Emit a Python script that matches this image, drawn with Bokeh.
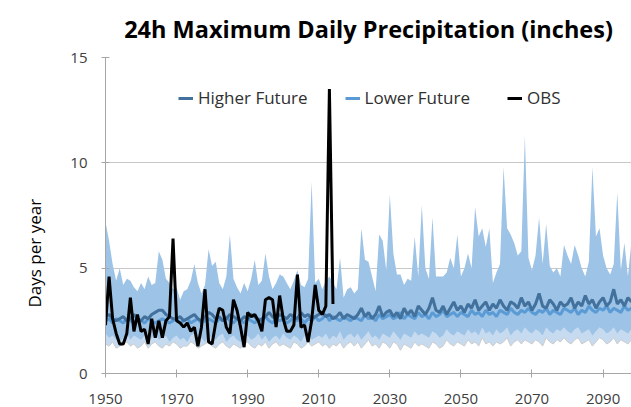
from bokeh.plotting import figure
from bokeh.models import Range1d, FixedTicker, Legend, LegendItem, Title, ColumnDataSource
from bokeh.embed import file_html
from bokeh.resources import INLINE

TITLE = "24h Maximum Daily Precipitation (inches)"
Y_LABEL = "Days per year"
X_TICKS = [1950, 1970, 1990, 2010, 2030, 2050, 2070, 2090]
Y_TICKS = [0, 5, 10, 15]

years = list(range(1950, 2099))
obs_years = list(range(1950, 2015))

obs = [2.3, 4.6, 2.6, 1.9, 1.4, 1.4, 1.9, 3.6, 2.0, 2.8,
       2.0, 2.1, 1.4, 2.6, 1.7, 2.5, 1.7, 2.5, 2.7, 6.4,
       2.5, 2.4, 2.2, 2.4, 2.0, 2.2, 1.3, 2.2, 4.0, 1.5,
       1.4, 2.4, 3.1, 3.0, 2.2, 1.9, 3.5, 3.0, 2.2, 1.25,
       2.9, 2.7, 2.8, 2.5, 2.0, 3.5, 3.6, 3.5, 2.2, 3.7,
       2.6, 2.0, 2.0, 2.3, 4.7, 2.2, 2.3, 1.5, 2.5, 4.2,
       3.0, 2.8, 3.2, 13.5, 3.3]

band_upper = [7.2, 6.3, 5.2, 4.4, 5.0, 4.2, 4.5, 4.4, 4.1, 3.9,
              4.3, 4.0, 4.6, 4.2, 4.3, 5.8, 5.4, 4.5, 4.3, 4.0,
              4.1, 3.5, 3.9, 4.0, 4.4, 5.2, 4.3, 3.8, 4.2, 5.9,
              5.1, 5.3, 4.3, 4.0, 4.6, 6.6, 4.5, 4.1, 3.8, 4.3,
              3.9, 4.5, 5.4, 4.2, 4.4, 5.7, 4.6, 4.0, 4.3, 4.7,
              4.6, 4.3, 4.0, 4.4, 4.9, 4.2, 4.1, 4.5, 9.1, 4.3,
              4.5, 4.0, 4.4, 4.6, 4.3, 4.0, 5.5, 3.6, 4.0, 4.1,
              3.8, 4.0, 6.9, 5.4, 5.3, 4.6, 3.9, 6.6, 6.3, 4.9,
              8.5, 5.7, 4.7, 4.7, 4.2, 4.5, 4.4, 6.5, 4.6, 8.0,
              5.0, 4.5, 7.4, 4.6, 4.6, 4.6, 4.8, 5.5, 5.0, 6.6,
              4.6, 5.0, 5.7, 5.0, 7.9, 6.5, 6.9, 6.0, 6.9, 4.3,
              4.8, 5.2, 9.8, 6.9, 6.6, 6.2, 5.6, 5.8, 11.3, 5.5,
              4.9, 5.6, 7.4, 5.2, 7.1, 5.1, 4.8, 5.0, 4.6, 6.1,
              5.6, 5.2, 6.1, 5.6, 5.0, 4.6, 5.3, 9.8, 6.5, 6.9,
              5.6, 5.0, 4.7, 5.2, 8.6, 4.9, 6.2, 4.6, 6.3]

band_low_higher = [1.9, 1.7, 1.8, 1.6, 1.5, 1.7, 1.9, 1.6, 1.8, 1.7,
                   1.6, 1.8, 1.5, 1.7, 1.9, 1.6, 1.7, 1.8, 1.5, 1.7,
                   1.8, 1.6, 1.7, 1.5, 1.8, 1.9, 1.6, 1.7, 1.5, 1.8,
                   1.7, 1.6, 1.8, 1.9, 1.5, 1.7, 1.8, 1.6, 1.5, 1.7,
                   1.8, 1.6, 1.7, 1.9, 1.6, 1.8, 1.5, 1.7, 1.8, 1.6,
                   1.9, 1.7, 1.6, 1.8, 1.7, 1.5, 1.8, 1.9, 1.6, 1.7,
                   1.8, 1.7, 1.9, 1.6, 1.8, 1.7, 2.0, 1.6, 1.8, 1.9,
                   1.7, 1.9, 1.6, 1.8, 2.0, 1.7, 1.8, 1.6, 1.9, 1.8,
                   1.7, 2.0, 1.8, 1.6, 1.9, 1.8, 1.7, 2.0, 1.8, 1.9,
                   1.8, 1.7, 2.0, 1.9, 1.7, 1.8, 2.1, 1.9, 1.8, 2.0,
                   1.9, 1.8, 2.1, 1.9, 2.0, 1.8, 2.2, 1.9, 2.0, 1.8,
                   2.1, 1.9, 2.0, 2.2, 1.8, 2.0, 2.1, 1.9, 2.2, 2.0,
                   1.9, 2.1, 2.0, 1.8, 2.2, 2.0, 1.9, 2.1, 2.0, 2.2,
                   2.0, 1.9, 2.1, 2.2, 1.9, 2.0, 2.1, 1.8, 2.0, 2.2,
                   2.1, 1.9, 2.0, 2.2, 1.9, 2.1, 2.0, 1.9, 2.1]

band_low_lower = [1.4, 1.3, 1.5, 1.2, 1.3, 1.4, 1.5, 1.3, 1.4, 1.2,
                  1.3, 1.5, 1.2, 1.4, 1.5, 1.3, 1.2, 1.4, 1.3, 1.5,
                  1.4, 1.2, 1.3, 1.3, 1.5, 1.4, 1.2, 1.3, 1.4, 1.5,
                  1.3, 1.2, 1.4, 1.5, 1.3, 1.2, 1.4, 1.3, 1.2, 1.4,
                  1.5, 1.3, 1.2, 1.4, 1.3, 1.5, 1.2, 1.4, 1.5, 1.3,
                  1.4, 1.3, 1.2, 1.5, 1.4, 1.2, 1.3, 1.5, 1.3, 1.4,
                  1.5, 1.3, 1.4, 1.2, 1.4, 1.3, 1.5, 1.2, 1.4, 1.5,
                  1.3, 1.5, 1.2, 1.4, 1.6, 1.3, 1.4, 1.2, 1.5, 1.4,
                  1.2, 1.5, 1.4, 1.1, 1.4, 1.3, 1.2, 1.5, 1.3, 1.4,
                  1.3, 1.2, 1.5, 1.4, 1.2, 1.3, 1.6, 1.4, 1.3, 1.5,
                  1.4, 1.3, 1.6, 1.4, 1.5, 1.3, 1.7, 1.4, 1.5, 1.3,
                  1.5, 1.4, 1.5, 1.7, 1.3, 1.5, 1.6, 1.4, 1.6, 1.5,
                  1.4, 1.6, 1.5, 1.3, 1.7, 1.5, 1.4, 1.6, 1.5, 1.7,
                  1.5, 1.4, 1.6, 1.7, 1.4, 1.5, 1.6, 1.3, 1.5, 1.7,
                  1.6, 1.4, 1.5, 1.7, 1.4, 1.6, 1.5, 1.4, 1.6]

higher_future = [2.7, 2.8, 2.6, 2.5, 2.6, 2.7, 2.5, 2.6, 2.8, 2.6,
                 2.5, 2.7, 2.6, 2.8, 2.9, 3.0, 3.0, 2.8, 2.7, 2.6,
                 2.6, 2.7, 2.5, 2.6, 2.7, 2.8, 2.6, 2.5, 2.7, 2.9,
                 2.8, 2.6, 2.7, 2.5, 2.6, 2.8, 2.7, 2.6, 2.5, 2.7,
                 2.6, 2.8, 2.7, 2.5, 2.6, 2.7, 2.9, 2.7, 2.6, 2.8,
                 2.7, 2.6, 2.8, 2.7, 2.6, 2.9, 2.7, 2.8, 2.6, 2.7,
                 2.8, 2.9, 2.7, 2.8, 2.6, 2.7, 2.9, 2.6, 2.8, 2.7,
                 2.6, 2.8, 3.1, 2.7, 2.9, 2.6, 2.8, 3.2, 2.7, 2.9,
                 3.0, 2.7, 2.9, 2.6, 3.1, 2.8, 3.0, 2.7, 3.2, 3.0,
                 2.8, 3.1, 3.6, 3.0, 2.9, 3.2, 2.8, 3.1, 3.4, 3.0,
                 3.2, 2.9, 3.3, 3.1, 3.5, 3.0, 3.2, 3.4, 3.0, 3.3,
                 3.1, 3.5, 3.2, 3.0, 3.4, 3.3, 3.1, 3.6, 3.2, 3.4,
                 3.0, 3.3, 3.8, 3.2, 3.1, 3.5, 3.3, 3.0, 3.4, 3.2,
                 3.3, 3.6, 3.1, 3.4, 3.2, 3.7, 3.3, 3.5, 3.1, 3.4,
                 3.6, 3.2, 3.4, 4.0, 3.3, 3.5, 3.2, 3.6, 3.4]

lower_future = [2.5, 2.6, 2.4, 2.6, 2.5, 2.4, 2.6, 2.5, 2.4, 2.6,
                2.5, 2.4, 2.6, 2.5, 2.4, 2.5, 2.6, 2.5, 2.4, 2.5,
                2.6, 2.4, 2.5, 2.6, 2.4, 2.5, 2.6, 2.4, 2.5, 2.6,
                2.5, 2.4, 2.6, 2.5, 2.7, 2.5, 2.4, 2.6, 2.5, 2.4,
                2.6, 2.5, 2.4, 2.6, 2.5, 2.7, 2.5, 2.4, 2.6, 2.5,
                2.6, 2.4, 2.5, 2.7, 2.5, 2.6, 2.4, 2.6, 2.5, 2.7,
                2.5, 2.6, 2.8, 2.5, 2.7, 2.6, 2.5, 2.7, 2.6, 2.5,
                2.7, 2.6, 2.5, 2.8, 2.6, 2.7, 2.5, 2.8, 2.6, 2.7,
                2.8, 2.6, 2.7, 2.9, 2.6, 2.8, 2.7, 2.6, 2.9, 2.7,
                2.8, 2.6, 2.9, 2.7, 2.8, 3.0, 2.7, 2.8, 2.9, 2.7,
                2.9, 2.8, 2.7, 3.0, 2.8, 2.9, 2.7, 3.0, 2.8, 2.9,
                2.7, 3.0, 2.9, 2.8, 3.1, 2.9, 2.8, 3.0, 2.9, 3.1,
                2.9, 2.8, 3.0, 2.9, 3.1, 2.8, 3.0, 2.9, 2.8, 3.1,
                3.0, 2.9, 3.1, 2.8, 3.0, 2.9, 3.2, 3.0, 2.9, 3.1,
                3.0, 3.2, 2.9, 3.1, 3.0, 2.9, 3.2, 3.0, 3.1]

src = ColumnDataSource(dict(year=years, upper=band_upper, low_h=band_low_higher,
                            low_l=band_low_lower, hf=higher_future, lf=lower_future))
obs_src = ColumnDataSource(dict(year=obs_years, obs=obs))

FONT = "Open Sans"

p = figure(width=631, height=407, x_range=Range1d(1950, 2098), y_range=Range1d(0, 15),
           output_backend="svg", toolbar_location=None,
           min_border_left=105, min_border_right=0, min_border_top=57, min_border_bottom=34)
p.outline_line_color = None
p.background_fill_color = "white"
p.border_fill_color = "white"

p.title.text = TITLE
p.title.align = "center"
p.title.vertical_align = "top"
p.title.text_font = FONT
p.title.text_font_style = "bold"
p.title.text_font_size = "23.5px"
p.title.text_color = "black"
p.title.standoff = 21

p.add_layout(Title(text=Y_LABEL, align="left", offset=66, vertical_align="top", standoff=40,
                   text_font=FONT, text_font_style="normal", text_font_size="17px",
                   text_color="black"), "left")

# bands
p.varea(x="year", y1="low_l", y2="hf", source=src, fill_color="#c6dbf0")
p.line(x="year", y="low_l", source=src, line_color="#cccccc", line_width=1)
p.varea(x="year", y1="low_h", y2="upper", source=src, fill_color="#9dc3e6")

r_lf = p.line(x="year", y="lf", source=src, line_color="#5b9bd5", line_width=3)
r_hf = p.line(x="year", y="hf", source=src, line_color="#41719c", line_width=3)
r_obs = p.line(x="year", y="obs", source=obs_src, line_color="black", line_width=3)

# axes
for ax in (p.xaxis[0], p.yaxis[0]):
    ax.axis_line_color = "#a6a6a6"
    ax.major_tick_line_color = "#a6a6a6"
    ax.major_tick_in = 4
    ax.major_tick_out = 4
    ax.minor_tick_line_color = None
    ax.major_label_text_font = FONT
    ax.major_label_text_font_size = "15px"
    ax.major_label_text_color = "#404040"
p.xaxis.ticker = FixedTicker(ticks=X_TICKS)
p.yaxis.ticker = FixedTicker(ticks=Y_TICKS)
p.xaxis.major_label_standoff = 16
p.yaxis.major_label_standoff = 14
p.xgrid.grid_line_color = None
p.ygrid.grid_line_color = "#c8c8c8"
p.ygrid.ticker = FixedTicker(ticks=[5, 10, 15])

legend = Legend(items=[LegendItem(label="Higher Future", renderers=[r_hf]),
                       LegendItem(label="Lower Future", renderers=[r_lf]),
                       LegendItem(label="OBS", renderers=[r_obs])],
                orientation="horizontal", location=(73, 264),
                background_fill_alpha=0, border_line_color=None,
                padding=0, margin=0, spacing=37, glyph_width=15, glyph_height=20,
                label_standoff=5, label_text_font=FONT, label_text_font_size="17px",
                label_text_color="#303030")
p.add_layout(legend, "center")

open("out.html", "w").write(file_html(p, INLINE))
